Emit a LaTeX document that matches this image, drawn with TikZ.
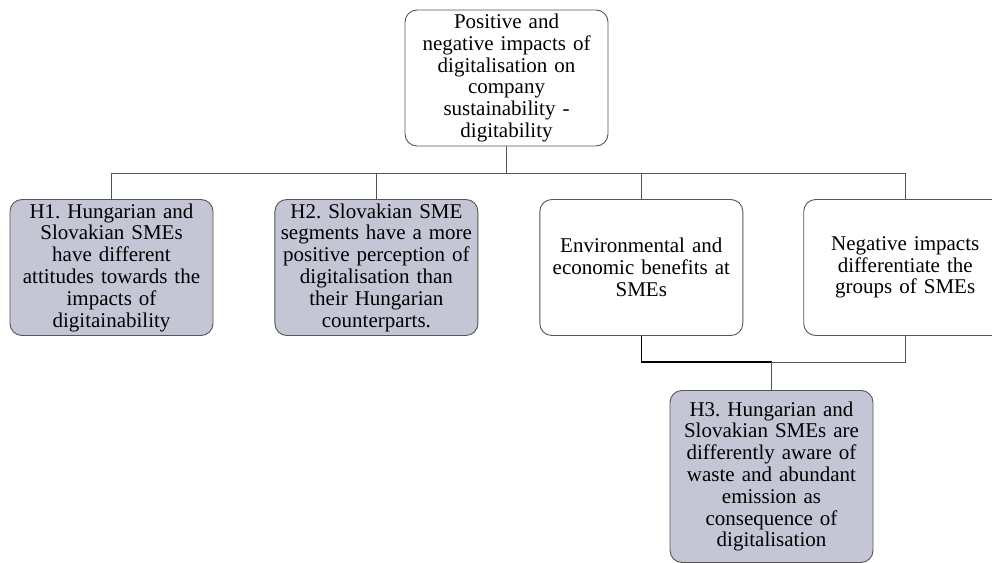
\documentclass[tikz,border=0pt]{standalone}
\usepackage{fontspec}
\setmainfont{Liberation Serif}
\usepackage{tikz}
\usetikzlibrary{positioning}
\definecolor{hypfill}{RGB}{196,198,214}
\definecolor{edge}{RGB}{85,85,85}
\frenchspacing

\begin{document}
\begin{tikzpicture}[
  box/.style={draw=edge, line width=0.9pt, rounded corners=12pt, align=center, fill=white,
    font=\fontsize{21}{21.8}\selectfont, text width=197pt, inner sep=3pt, minimum height=#1},
  box/.default=136pt,
  hyp/.style={box=#1, fill=hypfill},
  hyp/.default=136pt,
  link/.style={draw=edge, line width=0.8pt},
  node distance=61pt]
\useasboundingbox (0pt,0pt) rectangle (992pt,-562pt);
\node[box] (top) at (506.5pt,-78pt) {Positive and\\ negative impacts of\\ digitalisation on\\ company\\ sustainability -\\ digitability};
\node[hyp] (h1) at (111.5pt,-267.5pt) {H1. Hungarian and\\ Slovakian SMEs\\ have different\\ attitudes towards the\\ impacts of\\ digitainability};
\node[hyp, right=of h1] (h2) {H2. Slovakian SME\\ segments have a more\\ positive perception of\\ digitalisation than\\ their Hungarian\\ counterparts.};
\node[box, right=of h2] (env) {Environmental and\\ economic benefits at\\ SMEs};
\node[box, right=60pt of env] (neg) {Negative impacts\\ differentiate the\\ groups of SMEs};
\coordinate[below=27pt of top] (hub);
\coordinate (join) at (771.5pt,-362pt);
\node[hyp=172pt, below=28pt of join] (h3) {H3. Hungarian and\\ Slovakian SMEs are\\ differently aware of\\ waste and abundant\\ emission as\\ consequence of\\ digitalisation};
\draw[link] (top) -- (hub);
\draw[link] (hub) -| (h1);
\draw[link] (hub) -| (h2);
\draw[link] (hub) -| (env);
\draw[link] (hub) -| (neg);
\draw[link, draw=black, line width=1.4pt] (env) |- (join);
\draw[link] (neg) |- (join);
\draw[link] (join) -- (h3);
\end{tikzpicture}
\end{document}
